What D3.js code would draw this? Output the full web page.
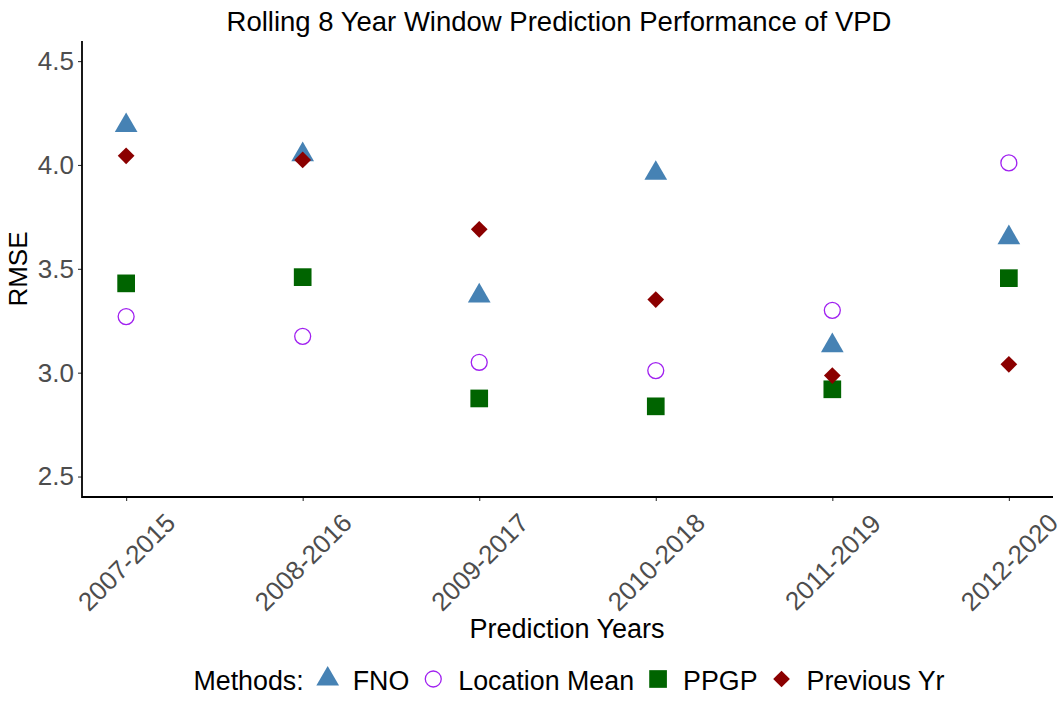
<!DOCTYPE html>
<html>
<head>
<meta charset="utf-8">
<script src="https://cdn.jsdelivr.net/npm/d3@7"></script>
<style>
  body { margin: 0; background: #fff; }
  text { font-family: "Liberation Sans", Arial, sans-serif; }
</style>
</head>
<body>
<svg id="chart"></svg>
<script>
let w = 1060;
let h = 706;

// data
let periods = ["2007-2015", "2008-2016", "2009-2017", "2010-2018", "2011-2019", "2012-2020"];
let methods = ["FNO", "Location Mean", "PPGP", "Previous Yr"];
let fno = [4.19, 4.05, 3.37, 3.96, 3.13, 3.65];
let locMean = [3.27, 3.175, 3.05, 3.01, 3.30, 4.01];
let ppgp = [3.43, 3.46, 2.876, 2.838, 2.92, 3.455];
let prevYr = [4.044, 4.024, 3.69, 3.352, 2.986, 3.04];
let yTicks = [2.5, 3.0, 3.5, 4.0, 4.5];

let series = [fno, locMean, ppgp, prevYr];
let styles = {
    "FNO": {sym: d3.symbolTriangle, size: 223, fill: "#4682B4", stroke: "none", rot: 0},
    "Location Mean": {sym: d3.symbolCircle, size: 200, fill: "none", stroke: "#A020F0", rot: 0},
    "PPGP": {sym: d3.symbolSquare, size: 313, fill: "#006400", stroke: "none", rot: 0},
    "Previous Yr": {sym: d3.symbolSquare, size: 140, fill: "#8B0000", stroke: "none", rot: 45}
};

let margin = {left: 82, right: 7, top: 41, bottom: 209};
let svg = d3.select("#chart").attr("width", w).attr("height", h);

let x = d3.scalePoint()
    .domain(periods)
    .range([margin.left, w - margin.right])
    .padding(0.25);

let y = d3.scaleLinear()
    .domain([2.4015, 4.5968])
    .range([h - margin.bottom, margin.top]);

// points
let points = [];
series.forEach((vals, i) => {
    vals.forEach((v, j) => {
        points.push({method: methods[i], period: periods[j], value: v});
    });
});

svg.selectAll("path.pt")
    .data(points)
    .enter()
    .append("path")
    .attr("class", "pt")
    .attr("d", d => d3.symbol().type(styles[d.method].sym).size(styles[d.method].size)())
    .attr("transform", d => "translate(" + x(d.period) + "," + y(d.value) + ") rotate(" + styles[d.method].rot + ")")
    .attr("fill", d => styles[d.method].fill)
    .attr("stroke", d => styles[d.method].stroke)
    .attr("stroke-width", 1.3);

// axes
let xAxis = svg.append("g")
    .attr("transform", "translate(0," + (h - margin.bottom) + ")")
    .call(d3.axisBottom(x).tickSize(4).tickSizeOuter(0));
xAxis.select(".domain").remove();
xAxis.append("line")
    .attr("x1", margin.left).attr("x2", w - margin.right)
    .attr("stroke", "black").attr("stroke-width", 1.8);
xAxis.selectAll(".tick line").attr("stroke", "#333").attr("stroke-width", 1.1);
xAxis.selectAll(".tick text")
    .attr("fill", "#4D4D4D")
    .style("font-size", "26px")
    .attr("text-anchor", "middle")
    .attr("y", 0)
    .attr("dy", "0.35em")
    .attr("transform", "translate(0,65) rotate(-45)");

let yAxis = svg.append("g")
    .attr("transform", "translate(" + margin.left + ",0)")
    .call(d3.axisLeft(y).tickValues(yTicks).tickFormat(d3.format(".1f")).tickSize(4).tickSizeOuter(0));
yAxis.select(".domain").remove();
yAxis.append("line")
    .attr("y1", margin.top).attr("y2", h - margin.bottom + 0.9)
    .attr("stroke", "black").attr("stroke-width", 1.8);
yAxis.selectAll(".tick line").attr("stroke", "#333").attr("stroke-width", 1.1);
yAxis.selectAll(".tick text")
    .attr("fill", "#4D4D4D")
    .style("font-size", "26px")
    .attr("x", -8);

// titles
svg.append("text")
    .attr("x", 559).attr("y", 31)
    .attr("text-anchor", "middle")
    .style("font-size", "27.5px")
    .text("Rolling 8 Year Window Prediction Performance of VPD");

svg.append("text")
    .attr("x", 567).attr("y", 638)
    .attr("text-anchor", "middle")
    .style("font-size", "27px")
    .text("Prediction Years");

svg.append("text")
    .attr("transform", "translate(27," + ((margin.top + h - margin.bottom) / 2) + ") rotate(-90)")
    .attr("text-anchor", "middle")
    .style("font-size", "26px")
    .text("RMSE");

// legend
let legend = svg.append("g");
let lx = 0;
let ly = 690;
let lt = legend.append("text")
    .attr("x", lx).attr("y", ly)
    .style("font-size", "26.8px")
    .text("Methods:");
lx += lt.node().getComputedTextLength();
methods.forEach(m => {
    lx += 24;
    let st = styles[m];
    legend.append("path")
        .attr("d", d3.symbol().type(st.sym).size(st.size)())
        .attr("transform", "translate(" + lx + "," + (ly - 11) + ") rotate(" + st.rot + ")")
        .attr("fill", st.fill)
        .attr("stroke", st.stroke)
        .attr("stroke-width", 1.3);
    lx += 25;
    let t = legend.append("text")
        .attr("x", lx).attr("y", ly)
        .style("font-size", "26.8px")
        .text(m);
    lx += t.node().getComputedTextLength();
});
legend.attr("transform", "translate(" + (569 - lx / 2) + ",0)");
</script>
</body>
</html>
